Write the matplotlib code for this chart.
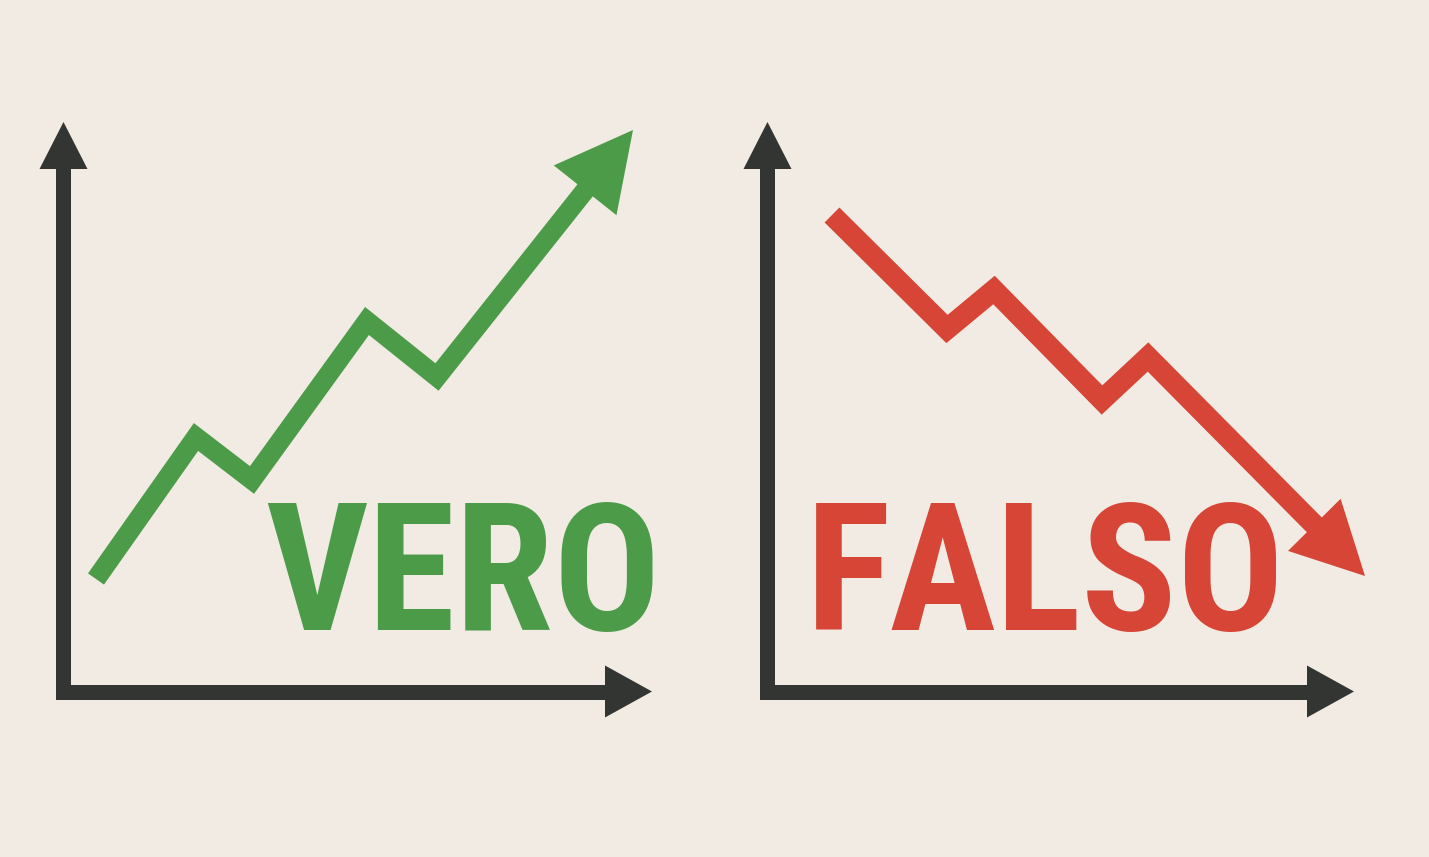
import numpy as np
import matplotlib
matplotlib.use("Agg")
import matplotlib.pyplot as plt
from matplotlib.patches import Polygon

# ---- data (pixel-space coordinates of the trend lines) ----
vero_x = [96, 196, 252, 367, 437, 633]
vero_y = [579, 437, 480, 321, 377, 130]
falso_x = [832, 947, 994, 1102, 1148, 1365]
falso_y = [215, 329, 290, 400, 357, 576]
labels = ["VERO", "FALSO"]

# ---- styles ----
BG = "#F1EBE4"
GREEN = "#4C9B48"
RED = "#D64536"
DARK = "#333533"
W, H = 1429, 857
DPI = 100
px = 72.0 / DPI  # points per pixel

fig = plt.figure(figsize=(W / DPI, H / DPI), dpi=DPI, facecolor=BG)
ax = fig.add_axes([0, 0, 1, 1])
ax.set_xlim(0, W)
ax.set_ylim(H, 0)
ax.set_facecolor(BG)
ax.axis("off")


def axis_frame(x0, ytop, yaxis, xright, xstart, lw=15, head=47, hw=48):
    ax.plot([x0, x0, xright - head + 2], [ytop + head - 2, yaxis, yaxis],
            color=DARK, lw=lw * px, solid_joinstyle="miter",
            solid_capstyle="butt", zorder=2)
    ax.plot([xstart, x0], [yaxis, yaxis], color=DARK, lw=lw * px,
            solid_capstyle="butt", zorder=2)
    ax.add_patch(Polygon([[x0, ytop], [x0 - hw / 2, ytop + head],
                          [x0 + hw / 2, ytop + head]], closed=True,
                         color=DARK, lw=0, zorder=3))
    ax.add_patch(Polygon([[xright, yaxis], [xright - head, yaxis - hw / 2 - 2],
                          [xright - head, yaxis + hw / 2 + 2]], closed=True,
                         color=DARK, lw=0, zorder=3))


def trend(xs, ys, color, lw=20, head=75, hw=78):
    xs = np.asarray(xs, float)
    ys = np.asarray(ys, float)
    tip = np.array([xs[-1], ys[-1]])
    prev = np.array([xs[-2], ys[-2]])
    d = tip - prev
    d /= np.hypot(*d)
    n = np.array([-d[1], d[0]])
    base = tip - d * head
    lx = list(xs[:-1]) + [base[0] + d[0] * 4]
    ly = list(ys[:-1]) + [base[1] + d[1] * 4]
    ax.plot(lx, ly, color=color, lw=lw * px, solid_joinstyle="miter",
            solid_capstyle="butt", zorder=4)
    ax.add_patch(Polygon([tip, base + n * hw / 2, base - n * hw / 2],
                         closed=True, color=color, lw=0, zorder=5))


axis_frame(63.5, 122, 691.5, 652, 56)
axis_frame(767.5, 122, 691.5, 1354, 760)

trend(vero_x, vero_y, GREEN, lw=19.5, head=77, hw=80)
trend(falso_x, falso_y, RED, lw=21, head=72, hw=74)

fam = ["Roboto Condensed", "DejaVu Sans"]
ax.text(265, 630, labels[0], color=GREEN, fontsize=128, fontweight="bold",
        family=fam, ha="left", va="baseline", zorder=6)
ax.text(806, 630, labels[1], color=RED, fontsize=128, fontweight="bold",
        family=fam, ha="left", va="baseline", zorder=6)

fig.savefig("out.png", dpi=DPI, facecolor=BG)
